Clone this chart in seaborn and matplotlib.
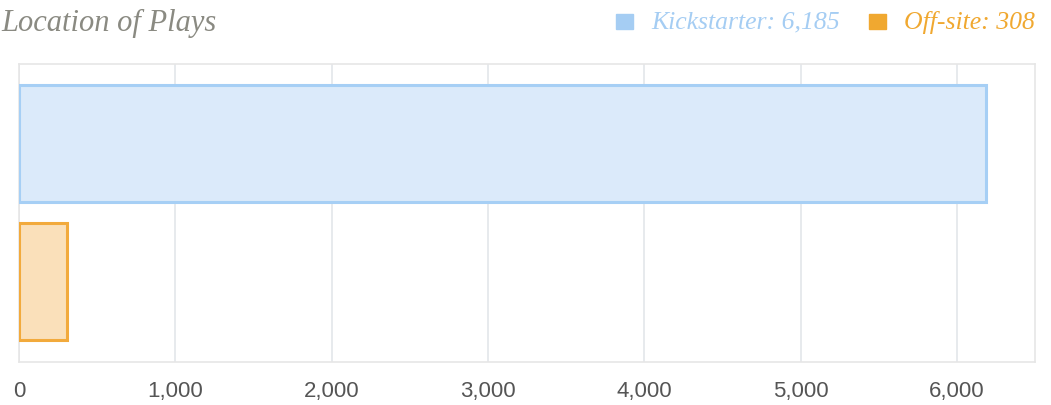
import matplotlib
matplotlib.use("Agg")
import matplotlib.pyplot as plt
import seaborn as sns
import pandas as pd
from matplotlib.ticker import FuncFormatter, MultipleLocator
from matplotlib.patches import Rectangle

categories = ["Kickstarter", "Off-site"]
values = [6185, 308]
fill_colors = ["#dbeafa", "#fae0ba"]
edge_colors = ["#a6cff5", "#f2aa3c"]
legend_colors = ["#a5cdf3", "#f0a830"]
legend_labels = ["Kickstarter: 6,185", "Off-site: 308"]
title = "Location of Plays"

sns.set_theme(style="white")
plt.rcParams['font.family'] = ['Liberation Sans', 'DejaVu Sans']

df = pd.DataFrame({"cat": categories, "val": values})

fig = plt.figure(figsize=(10.51, 4.06), dpi=100)
ax = fig.add_axes([19/1051, 1 - 363/406, (1035-19)/1051, (363-65)/406])

sns.barplot(data=df, x="val", y="cat", hue="cat", palette=fill_colors,
            saturation=1, orient="h", width=0.845, legend=False, ax=ax, zorder=3)
for p, ec in zip(ax.patches, edge_colors):
    p.set_edgecolor(ec)
    p.set_linewidth(2.2)

ax.set_xlim(0, 6500)
ax.set_ylim(1.578, -0.574)
ax.xaxis.set_major_locator(MultipleLocator(1000))
ax.xaxis.set_major_formatter(FuncFormatter(lambda v, p: f"{int(v):,}"))
ax.grid(axis="x", color="#e3e6ea", linewidth=1.2, zorder=0)
ax.set_axisbelow(True)
ax.set_yticks([])
ax.set_xlabel("")
ax.set_ylabel("")
for s in ax.spines.values():
    s.set_color("#e6e6e6")
    s.set_linewidth(1.2)
ax.tick_params(axis="x", length=0, pad=13, labelsize=16, labelcolor="#555555")

serif = ['Liberation Serif', 'DejaVu Serif']
fig.text(0.001, 1 - 23/406, title, family=serif, style="italic",
         fontsize=22, color="#8a8a82", va="center", ha="left")

# legend
fig.patches.append(Rectangle((616/1051, 1 - 30/406), 17/1051, 15/406,
                             transform=fig.transFigure, color=legend_colors[0]))
fig.text(651/1051, 1 - 22/406, legend_labels[0], family=serif, style="italic",
         fontsize=18.5, color=legend_colors[0], va="center", ha="left")
fig.patches.append(Rectangle((869/1051, 1 - 30/406), 17/1051, 15/406,
                             transform=fig.transFigure, color=legend_colors[1]))
fig.text(904/1051, 1 - 22/406, legend_labels[1], family=serif, style="italic",
         fontsize=18.5, color=legend_colors[1], va="center", ha="left")

fig.savefig("out.png", dpi=100)
